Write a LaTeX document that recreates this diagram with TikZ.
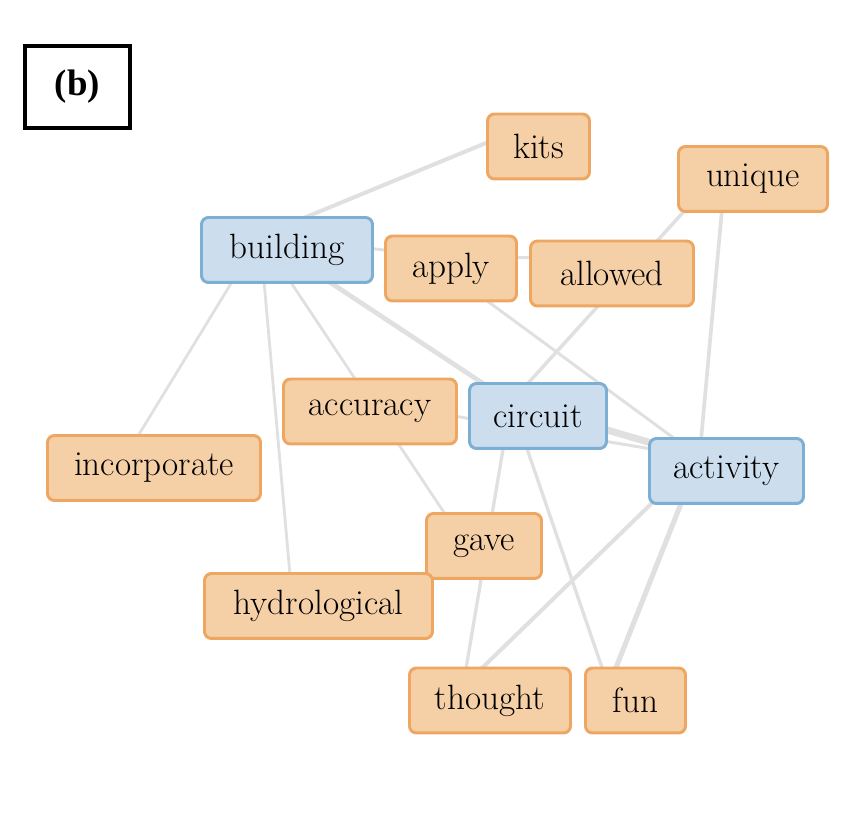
\documentclass[tikz,border=0pt]{standalone}
\usepackage{fontspec}
\usepackage{tikz}
\usetikzlibrary{backgrounds}
\newfontfamily\tagfont{Liberation Serif}
\definecolor{bluefill}{RGB}{204,221,238}
\definecolor{blueline}{RGB}{125,175,212}
\definecolor{orangefill}{RGB}{245,208,166}
\definecolor{orangeline}{RGB}{238,167,98}
\definecolor{edgegray}{RGB}{224,224,224}
\tikzset{
    word/.style={draw, rounded corners=4pt, line width=1.7pt, minimum height=1.3cm, inner sep=0pt, font=\fontsize{20}{24}\selectfont},
    blueword/.style={word, fill=bluefill, draw=blueline},
    orangeword/.style={word, fill=orangefill, draw=orangeline},
    link/.style={edgegray, line cap=round}
}

\begin{document}
\begin{tikzpicture}[x=0.02cm, y=-0.02cm]
        \useasboundingbox (0,0) rectangle (856,813);
        \node[draw, line width=2.2pt, minimum width=2.1cm, minimum height=1.64cm, font=\tagfont\bfseries\fontsize{21}{24}\selectfont] (tag) at (77.5,87) {(b)};
        \foreach \n/\x/\y/\w/\s in {building/287/250/174/blueword, kits/538.5/146.5/105/orangeword, unique/753/179/152/orangeword, apply/451/268.5/134/orangeword, allowed/612/273.5/166/orangeword, accuracy/370/411.5/176/orangeword, circuit/538/416/140/blueword, activity/726.5/471/157/blueword, incorporate/154/468/216/orangeword, gave/484/546/118/orangeword, hydrological/318.5/606/231/orangeword, thought/490/700.5/164/orangeword, fun/635.5/700.5/103/orangeword}
        {
            \node[\s, minimum width=(\w-3)*0.02cm] (\n) at (\x,\y) {\n};
        }
        \begin{pgfonlayer}{background}
            \foreach \a/\b/\w in {building/kits/2.3pt, building/apply/1.7pt, apply/allowed/1.7pt, building/incorporate/1.6pt, building/hydrological/1.6pt, building/gave/1.6pt, building/circuit/2.7pt, unique/circuit/2pt, unique/activity/2.1pt, apply/activity/1.7pt, accuracy/activity/1.7pt, circuit/activity/4pt, circuit/thought/1.9pt, circuit/fun/1.9pt, activity/thought/2.3pt, activity/fun/2.9pt}
            {
                \draw[link, line width=\w] ([shift={(-27,-14)}]\a.center) -- ([shift={(-27,-14)}]\b.center);
            }
        \end{pgfonlayer}
    \end{tikzpicture}
\end{document}
